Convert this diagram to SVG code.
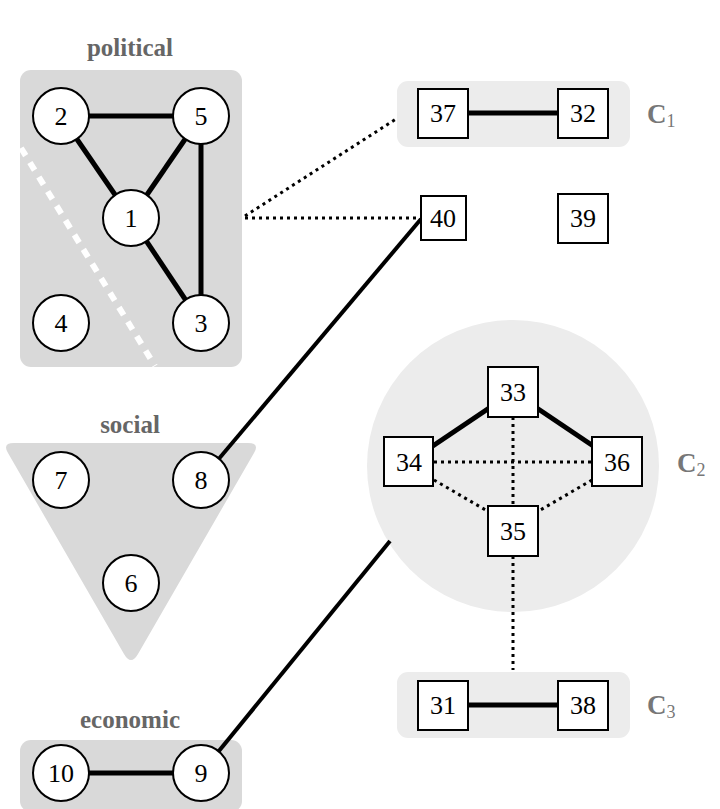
<svg xmlns="http://www.w3.org/2000/svg" width="720" height="809" viewBox="0 0 720 809">
<style>
.grp{fill:#d9d9d9}
.clu{fill:#ececec}
.cn{fill:#fff;stroke:#000;stroke-width:2}
.sq{fill:#fff;stroke:#000;stroke-width:2}
.t{font-family:"Liberation Serif",serif;font-size:26px;text-anchor:middle;fill:#000}
.gl{font-family:"Liberation Serif",serif;font-size:25px;font-weight:bold;text-anchor:middle;fill:#666}
.cl{font-family:"Liberation Serif",serif;font-size:27px;font-weight:bold;fill:#777}
.cs{font-size:18px;font-weight:normal}
.solid{stroke:#000;stroke-width:5;fill:none}
.thin{stroke:#000;stroke-width:4;fill:none}
.dot{stroke:#000;stroke-width:3;stroke-dasharray:3 4;fill:none}
</style>
<rect width="720" height="809" fill="#fff"/>
<g id="group-political">
<rect class="grp" x="20" y="70" width="222" height="297" rx="11"/>
<line x1="21" y1="148" x2="155" y2="366" stroke="#fff" stroke-width="6" stroke-dasharray="9 8"/>
<text class="gl" x="130" y="56">political</text>
</g>
<g id="group-social">
<path class="grp" d="M14,443 L248,443 Q260,443 254,453 L138,654 Q131,666 124,654 L8,453 Q2,443 14,443 Z"/>
<text class="gl" x="130" y="433">social</text>
</g>
<g id="group-economic">
<rect class="grp" x="20" y="740" width="222" height="72" rx="11"/>
<text class="gl" x="130" y="728">economic</text>
</g>
<g id="cluster-C1">
<rect class="clu" x="397" y="81" width="233" height="66" rx="11"/>
<text class="cl" x="647" y="123">C<tspan class="cs" dy="4">1</tspan></text>
</g>
<g id="cluster-C2">
<circle class="clu" cx="513" cy="466" r="146"/>
<text class="cl" x="677" y="472">C<tspan class="cs" dy="4">2</tspan></text>
</g>
<g id="cluster-C3">
<rect class="clu" x="397" y="672" width="233" height="66" rx="11"/>
<text class="cl" x="647" y="714">C<tspan class="cs" dy="4">3</tspan></text>
</g>
<g id="connectors">
<line class="solid" x1="61" y1="116" x2="201" y2="116"/>
<line class="solid" x1="61" y1="116" x2="131" y2="218"/>
<line class="solid" x1="201" y1="116" x2="131" y2="218"/>
<line class="solid" x1="201" y1="116" x2="201" y2="323"/>
<line class="solid" x1="131" y1="218" x2="201" y2="323"/>
<line class="dot" x1="245" y1="216" x2="396" y2="119"/>
<line class="dot" x1="245" y1="218" x2="421" y2="218"/>
<line class="solid" x1="443" y1="113" x2="583" y2="113"/>
<line class="thin" x1="201" y1="480" x2="421" y2="219"/>
<line class="solid" x1="409" y1="462" x2="513" y2="392"/>
<line class="solid" x1="513" y1="392" x2="617" y2="462"/>
<line class="dot" x1="513" y1="417" x2="513" y2="506"/>
<line class="dot" x1="434" y1="462" x2="592" y2="462"/>
<line class="dot" x1="434" y1="480" x2="489" y2="512"/>
<line class="dot" x1="592" y1="480" x2="537" y2="512"/>
<line class="dot" x1="513" y1="556" x2="513" y2="670"/>
<line class="solid" x1="443" y1="705" x2="583" y2="705"/>
<line class="thin" x1="201" y1="773" x2="390" y2="541"/>
<line class="solid" x1="61" y1="773" x2="201" y2="773"/>
</g>
<g id="n1"><circle class="cn" cx="131" cy="218" r="28"/><text class="t" x="131" y="227">1</text></g>
<g id="n2"><circle class="cn" cx="61" cy="116" r="28"/><text class="t" x="61" y="125">2</text></g>
<g id="n3"><circle class="cn" cx="201" cy="323" r="28"/><text class="t" x="201" y="332">3</text></g>
<g id="n4"><circle class="cn" cx="61" cy="323" r="28"/><text class="t" x="61" y="332">4</text></g>
<g id="n5"><circle class="cn" cx="201" cy="116" r="28"/><text class="t" x="201" y="125">5</text></g>
<g id="n6"><circle class="cn" cx="131" cy="583" r="28"/><text class="t" x="131" y="592">6</text></g>
<g id="n7"><circle class="cn" cx="61" cy="480" r="28"/><text class="t" x="61" y="489">7</text></g>
<g id="n8"><circle class="cn" cx="201" cy="480" r="28"/><text class="t" x="201" y="489">8</text></g>
<g id="n9"><circle class="cn" cx="201" cy="773" r="28"/><text class="t" x="201" y="782">9</text></g>
<g id="n10"><circle class="cn" cx="61" cy="773" r="28"/><text class="t" x="61" y="782">10</text></g>
<g id="n37"><rect class="sq" x="418" y="89" width="50" height="49"/><text class="t" x="443" y="122">37</text></g>
<g id="n32"><rect class="sq" x="558" y="89" width="50" height="49"/><text class="t" x="583" y="122">32</text></g>
<g id="n40"><rect class="sq" x="421" y="196" width="45" height="44"/><text class="t" x="443" y="227">40</text></g>
<g id="n39"><rect class="sq" x="558" y="194" width="50" height="49"/><text class="t" x="583" y="227">39</text></g>
<g id="n33"><rect class="sq" x="488" y="367" width="50" height="50"/><text class="t" x="513" y="401">33</text></g>
<g id="n34"><rect class="sq" x="384" y="437" width="49" height="49"/><text class="t" x="409" y="471">34</text></g>
<g id="n36"><rect class="sq" x="592" y="437" width="50" height="49"/><text class="t" x="617" y="471">36</text></g>
<g id="n35"><rect class="sq" x="488" y="506" width="50" height="50"/><text class="t" x="513" y="540">35</text></g>
<g id="n31"><rect class="sq" x="418" y="681" width="50" height="49"/><text class="t" x="443" y="714">31</text></g>
<g id="n38"><rect class="sq" x="558" y="681" width="50" height="49"/><text class="t" x="583" y="714">38</text></g>
</svg>
